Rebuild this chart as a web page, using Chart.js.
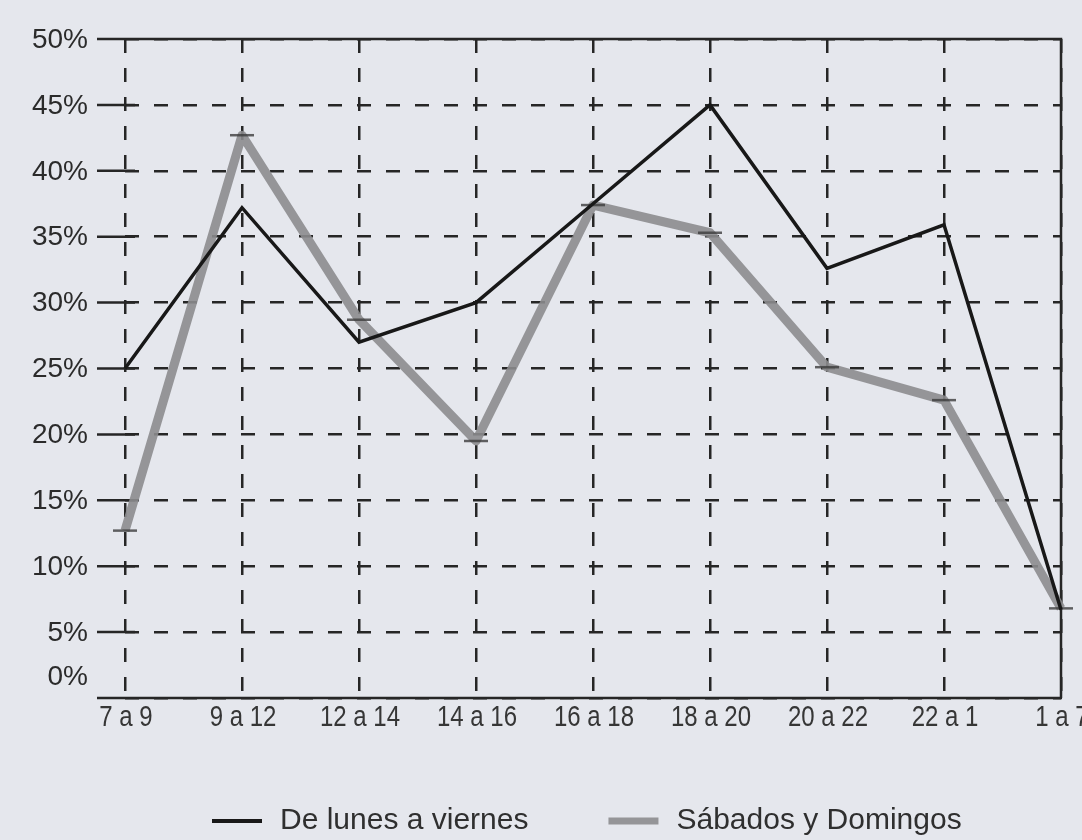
<!DOCTYPE html>
<html>
<head>
<meta charset="utf-8">
<script src="https://cdn.jsdelivr.net/npm/chart.js@4.4.1/dist/chart.umd.min.js"></script>
<style>
  html, body { margin:0; padding:0; background:#e5e7ed; }
  canvas { display:block; }
</style>
</head>
<body>
<canvas id="franjas" width="1082" height="840"></canvas>
<script>
// franjas horarias y porcentaje de uso
const FRANJAS = ['7 a 9', '9 a 12', '12 a 14', '14 a 16', '16 a 18', '18 a 20', '20 a 22', '22 a 1', '1 a 7'];
const LABORABLES = [25, 37.2, 27, 30, 37.5, 45, 32.6, 35.9, 6.7];
const FIN_SEMANA = [12.7, 42.7, 28.7, 19.5, 37.4, 35.3, 25.1, 22.6, 6.8];
const Y_TICKS = [0, 5, 10, 15, 20, 25, 30, 35, 40, 45, 50];

const INK = '#262626';
const FONT_Y = '28px "Liberation Sans", Arial, sans-serif';
const FONT_X = '30px "Liberation Sans", Arial, sans-serif';
const FONT_LEG = '30px "Liberation Sans", Arial, sans-serif';
const X_SQUEEZE = 0.8; // condensed look for the hour labels

// solid frame, y tick marks, axis texts and the legend row
const marco = {
  id: 'marco',
  beforeDatasetsDraw(chart) {
    const { ctx, chartArea: a, scales: { y } } = chart;
    ctx.save();
    ctx.strokeStyle = INK;
    ctx.lineWidth = 2.5;
    ctx.beginPath();
    ctx.moveTo(a.left - 28, a.top); ctx.lineTo(a.right, a.top); ctx.lineTo(a.right, a.bottom);
    ctx.moveTo(a.left - 28, a.bottom); ctx.lineTo(a.right + 1, a.bottom);
    Y_TICKS.forEach(v => {
      if (v === 0 || v === 50) return;
      const py = y.getPixelForValue(v);
      ctx.moveTo(a.left - 28, py); ctx.lineTo(a.left + 10, py);
    });
    ctx.stroke();
    ctx.restore();
  },
  afterDraw(chart) {
    const { ctx, chartArea: a, scales: { x, y } } = chart;
    ctx.save();
    // y labels
    ctx.fillStyle = '#2b2b2b';
    ctx.font = FONT_Y;
    ctx.textAlign = 'right';
    ctx.textBaseline = 'middle';
    Y_TICKS.forEach(v => {
      let py = y.getPixelForValue(v);
      if (v === 0) py -= 22;
      ctx.fillText(v + '%', a.left - 37, py + 1);
    });
    // x labels, squeezed horizontally
    ctx.fillStyle = '#363636';
    ctx.font = FONT_X;
    ctx.textAlign = 'center';
    ctx.textBaseline = 'top';
    FRANJAS.forEach((f, i) => {
      ctx.save();
      ctx.translate(x.getPixelForValue(i) + 1, a.bottom + 5);
      ctx.scale(X_SQUEEZE, 1);
      ctx.fillText(f, 0, 0);
      ctx.restore();
    });
    // legend
    ctx.font = FONT_LEG;
    ctx.fillStyle = '#2f2f2f';
    ctx.textAlign = 'left';
    ctx.textBaseline = 'middle';
    const ly = 821;
    let lx = 212;
    chart.data.datasets.forEach(ds => {
      ctx.strokeStyle = ds.borderColor;
      ctx.lineWidth = ds.legendWidth;
      ctx.beginPath();
      ctx.moveTo(lx, ly); ctx.lineTo(lx + 50, ly);
      ctx.stroke();
      lx += 68;
      ctx.fillText(ds.label, lx, ly);
      lx += ctx.measureText(ds.label).width + 80;
    });
    ctx.restore();
  }
};

new Chart(document.getElementById('franjas'), {
  type: 'line',
  data: {
    labels: FRANJAS,
    datasets: [
      {
        label: 'De lunes a viernes',
        data: LABORABLES,
        borderColor: '#181818',
        borderWidth: 3.5,
        legendWidth: 4,
        pointRadius: 0,
        tension: 0,
        clip: false,
      },
      {
        label: 'Sábados y Domingos',
        data: FIN_SEMANA,
        borderColor: 'rgba(140,140,142,0.9)',
        borderWidth: 9,
        legendWidth: 7,
        borderJoinStyle: 'round',
        pointStyle: 'line',
        pointRadius: 12,
        pointBorderWidth: 2.5,
        pointBorderColor: 'rgba(60,60,60,0.8)',
        tension: 0,
        clip: false,
      },
    ],
  },
  options: {
    responsive: false,
    animation: false,
    layout: { padding: { top: 39, right: 21, left: 0, bottom: 0 } },
    plugins: { legend: { display: false }, tooltip: { enabled: false } },
    scales: {
      x: {
        ticks: { display: false },
        grid: { color: INK, lineWidth: 2.5, drawTicks: false },
        border: { display: false, dash: [14, 15] },
        afterFit: s => { s.height = 142; },
      },
      y: {
        min: 0,
        max: 50,
        afterBuildTicks: s => { s.ticks = Y_TICKS.map(v => ({ value: v })); },
        ticks: { display: false },
        grid: { color: INK, lineWidth: 2.5, drawTicks: false },
        border: { display: false, dash: [14, 15] },
        afterFit: s => { s.width = 125; },
      },
    },
  },
  plugins: [marco],
});
</script>
</body>
</html>
